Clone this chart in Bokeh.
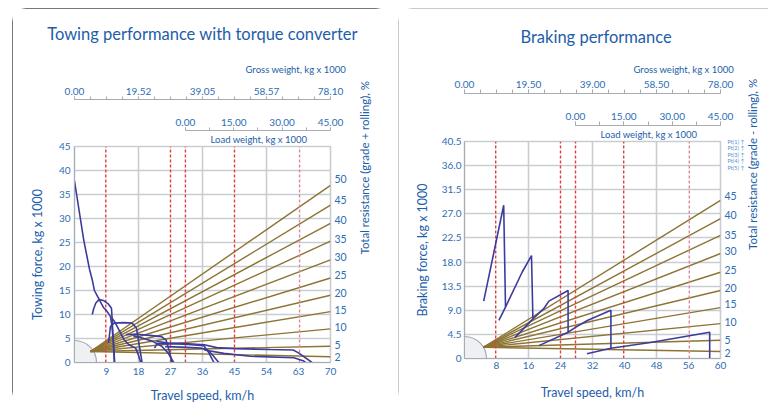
import math
from bokeh.plotting import figure
from bokeh.models import (Range1d, LinearAxis, FixedTicker, Title, CustomJSTickFormatter)
from bokeh.layouts import row
from bokeh.embed import file_html
from bokeh.resources import INLINE

# ---------------- Towing performance (left) ----------------
tow_speed_ticks = [9, 18, 27, 36, 45, 54, 63, 72]
tow_speed_labels = ["9", "18", "27", "36", "45", "54", "63", "70"]
tow_speed_grid = [18, 36, 54, 72]
tow_force_ticks = [0, 5, 10, 15, 20, 25, 30, 35, 40, 45]
tow_force_labels = ["0", "5", "10", "15", "20", "25", "30", "35", "40", "45"]
tow_gross_labels = ["0.00", "19.52", "39.05", "58.57", "78.10"]
tow_gross_max = 78.10
tow_load_labels = ["0.00", "15.00", "30.00", "45.00"]
tow_load_max = 45.0
tow_load_zero_speed = 31.2
tow_marker_speeds = [8.8, 27.0, 31.2, 45.0, 63.3]
tow_resist_pct = ["2", "5", "10", "15", "20", "25", "30", "35", "40", "45", "50"]
tow_resist_end = [1.2, 3.4, 7.0, 10.6, 14.0, 17.6, 21.4, 25.3, 29.0, 32.8, 36.9]
tow_resist_label_at = [1.2, 3.7, 7.5, 11.0, 14.5, 18.2, 22.0, 25.7, 29.7, 33.8, 38.2]
tow_fan_origin = [4.5, 2.3]

tow_g1a_speed = [0, 2.6, 4.2, 5.0, 5.6, 6.6, 8.2, 9.0, 10.1, 10.5, 10.9, 11.2]
tow_g1a_force = [37.8, 25.5, 19.5, 17.2, 15.0, 13.6, 11.4, 10.8, 9.6, 7.8, 4.5, 0]
tow_g1b_speed = [5.0, 5.4, 6.0, 6.9, 8.2, 9.5, 10.4, 10.6, 10.9, 11.3]
tow_g1b_force = [10.0, 11.2, 12.4, 13.1, 12.9, 12.2, 11.3, 8.9, 4.8, 0]
tow_g2a_speed = [10.5, 11.2, 12.5, 13.9, 15.3, 17.2, 18.0, 18.6]
tow_g2a_force = [9.3, 8.6, 6.8, 4.8, 3.7, 3.0, 1.5, 0]
tow_g2b_speed = [9.6, 10.1, 11.1, 13.9, 16.2, 17.4, 18.1, 19.0]
tow_g2b_force = [4.1, 7.5, 8.2, 8.3, 8.2, 7.2, 4.1, 0]
tow_g3a_speed = [14.5, 17.0, 20.4, 24.5, 25.8, 26.6, 27.4]
tow_g3a_force = [5.8, 5.9, 5.7, 5.4, 4.6, 2.5, 0]
tow_g3b_speed = [16.5, 19.5, 22.0, 24.5, 26.3, 27.9]
tow_g3b_force = [5.6, 5.0, 4.4, 3.4, 2.0, 0]
tow_g4a_speed = [22.5, 23.2, 26.1, 31.0, 36.4, 37.8, 39.2]
tow_g4a_force = [3.0, 3.9, 3.9, 3.8, 3.5, 2.0, 0]
tow_g4b_speed = [25.5, 30.0, 35.5, 37.5, 39.0, 40.6]
tow_g4b_force = [3.3, 3.2, 3.0, 2.6, 1.4, 0]
tow_g5a_speed = [23.0, 26.0, 32.0, 36.5, 40.0, 45.0, 55.0, 61.5, 63.0, 66.8]
tow_g5a_force = [4.4, 4.1, 3.9, 3.7, 3.1, 2.9, 2.7, 2.6, 2.0, 0]
tow_g5b_speed = [36.5, 42.0, 49.5, 61.7, 64.5, 65.0]
tow_g5b_force = [2.6, 1.9, 1.3, 1.0, 0.3, 0]

# ---------------- Braking performance (right) ----------------
brk_speed_ticks = [8, 16, 24, 32, 40, 48, 56, 64]
brk_speed_labels = ["8", "16", "24", "32", "40", "48", "56", "60"]
brk_speed_grid = [16, 32, 48, 64]
brk_force_ticks = [0, 4.5, 9, 13.5, 18, 22.5, 27, 31.5, 36, 40.5]
brk_force_labels = ["0", "4.5", "9.0", "13.5", "18.0", "22.5", "27.0", "31.5", "36.0", "40.5"]
brk_gross_labels = ["0.00", "19.50", "39.00", "58.50", "78.00"]
brk_gross_max = 78.0
brk_load_labels = ["0.00", "15.00", "30.00", "45.00"]
brk_load_max = 45.0
brk_load_zero_speed = 27.75
brk_marker_speeds = [7.8, 24.0, 27.75, 39.8, 56.2]
brk_resist_pct = ["2", "5", "10", "15", "20", "25", "30", "35", "40", "45"]
brk_resist_end = [1.3, 3.4, 6.5, 9.5, 12.7, 16.1, 19.6, 23.0, 26.1, 29.5]
brk_resist_label_at = [1.1, 3.5, 6.9, 10.1, 13.1, 16.6, 20.0, 23.1, 26.7, 30.4]
brk_fan_origin = [4.7, 2.1]
brk_pt_labels = ["Pt(1) \u2191", "Pt(2) \u2191", "Pt(3) \u2191", "Pt(4) \u2191", "Pt(5) \u2191"]

brk_b1_speed = [4.8, 9.8, 10.25]
brk_b1_force = [10.7, 28.6, 9.6]
brk_b2_speed = [8.6, 10.25, 14.4, 16.75, 17.1]
brk_b2_force = [7.1, 9.6, 16.1, 19.2, 7.4]
brk_b3_speed = [12.6, 17.1, 19.8, 21.1, 25.9, 25.9]
brk_b3_force = [3.9, 7.4, 9.3, 10.7, 12.7, 4.9]
brk_b4_speed = [18.6, 25.9, 27.75, 30.7, 36.6, 36.6]
brk_b4_force = [2.4, 4.9, 5.8, 7.1, 9.0, 1.9]
brk_b5_speed = [30.6, 36.6, 46.5, 61.3, 61.3]
brk_b5_force = [0.9, 1.9, 3.0, 4.9, 0.1]

# ---------------- style ----------------
FONT = "Lato"
BLUE_T = "#1d5ea9"
BLUE_L = "#2d6db3"
GRID = "#c9cdd2"
AXG = "#a7acb2"
FAN = "#8d7434"
CURVE = "#3c3c9c"
RED = "#e0413b"
RED_L = "#d98c98"
FW, FH = 256, 217


def fmt(ticks, labels):
    return CustomJSTickFormatter(args=dict(t=list(ticks), l=list(labels)), code="""
        let best = 0, d = Infinity;
        for (let i = 0; i < t.length; i++) {
            const e = Math.abs(t[i] - tick);
            if (e < d) { d = e; best = i; }
        }
        return l[best];
    """)


def style_axis(ax, size="10px"):
    ax.major_label_text_font = FONT
    ax.major_label_text_font_size = size
    ax.major_label_text_color = BLUE_L
    ax.axis_label_text_font = FONT
    ax.axis_label_text_font_style = "normal"
    ax.axis_label_text_color = BLUE_T


def no_ticks(ax):
    ax.major_tick_out = 0
    ax.major_tick_in = 0
    ax.minor_tick_out = 0
    ax.minor_tick_in = 0


def title(text, size, align, offset, standoff, pad_bottom=0, line_px=12):
    t = Title(text=text, align=align, offset=offset, standoff=standoff,
              vertical_align="bottom", text_font=FONT, text_font_size=size,
              text_font_style="normal", text_color=BLUE_T)
    if pad_bottom:
        try:
            t.padding = dict(left=0, right=0, top=0, bottom=pad_bottom)
        except Exception:
            t.text = text + "\n" * max(1, round(pad_bottom / line_px))
    return t


def top_axis(rname, bounds, ticks, minor, labels, tick, standoff):
    ax = LinearAxis(x_range_name=rname, bounds=bounds,
                    ticker=FixedTicker(ticks=ticks, minor_ticks=minor),
                    formatter=fmt(ticks, labels))
    style_axis(ax)
    ax.axis_line_color = AXG
    ax.major_tick_line_color = AXG
    ax.minor_tick_line_color = AXG
    ax.major_tick_out = tick
    ax.minor_tick_out = tick
    ax.major_tick_in = 0
    ax.minor_tick_in = 0
    ax.major_label_standoff = standoff
    return ax


def gap_axis(h, rname, at):
    # blank band between the two weight scales
    return LinearAxis(x_range_name=rname, ticker=FixedTicker(ticks=[at], minor_ticks=[]),
                      formatter=fmt([at], [""]), axis_line_color=None,
                      major_tick_line_color="white", minor_tick_line_color=None,
                      major_tick_out=h, major_tick_in=0, minor_tick_out=0,
                      minor_tick_in=0, major_label_standoff=0)


def panel(cfg):
    cx0, cy0 = cfg["canvas_origin"]
    W, H = cfg["size"]
    fl, ft = cfg["frame_lt"]
    xmax, ymax = cfg["xmax"], cfg["ymax"]

    p = figure(width=W, height=H, x_range=Range1d(0, xmax), y_range=Range1d(0, ymax),
               output_backend="svg", toolbar_location=None, margin=cfg["margin"],
               min_border_left=fl - cx0, min_border_top=ft - cy0,
               min_border_right=cx0 + W - (fl + FW),
               min_border_bottom=cy0 + H - (ft + FH),
               styles=cfg["styles"])
    if "frame_align" in p.properties():
        p.frame_align = False
    p.background_fill_color = "white"
    p.border_fill_color = "white"
    p.outline_line_color = GRID
    p.outline_line_width = 1.6

    p.xgrid.ticker = FixedTicker(ticks=cfg["grid_x"])
    p.ygrid.ticker = FixedTicker(ticks=cfg["force_ticks"])
    for g in (p.xgrid[0], p.ygrid[0]):
        g.grid_line_color = GRID
        g.grid_line_width = 1.6

    # bottom axis
    xa = p.xaxis[0]
    xa.ticker = FixedTicker(ticks=cfg["speed_ticks"], minor_ticks=[])
    xa.formatter = fmt(cfg["speed_ticks"], cfg["speed_labels"])
    xa.axis_label = "Travel speed, km/h"
    style_axis(xa)
    xa.axis_label_text_font_size = "12.5px"
    xa.axis_line_color = AXG
    no_ticks(xa)
    xa.major_label_standoff = cfg["xtick_standoff"]
    xa.axis_label_standoff = cfg["xlab_standoff"]

    # left axis
    ya = p.yaxis[0]
    ya.ticker = FixedTicker(ticks=cfg["force_ticks"], minor_ticks=[])
    ya.formatter = fmt(cfg["force_ticks"], cfg["force_labels"])
    ya.axis_label = cfg["ylabel"]
    style_axis(ya)
    ya.axis_label_text_font_size = "12.5px"
    ya.axis_line_color = AXG
    no_ticks(ya)
    ya.major_label_standoff = cfg["ylab_tick_standoff"]
    ya.axis_label_standoff = cfg["ylab_standoff"]

    # optional tiny labels right of the frame (nearest to the frame)
    pct_standoff = 4
    if cfg.get("pt_labels"):
        p.extra_y_ranges = {"pt": Range1d(0, FH + 0.5)}
        pt_pos = [ft + FH - wy for wy in cfg["pt_at"]]
        pa = LinearAxis(y_range_name="pt", ticker=FixedTicker(ticks=pt_pos, minor_ticks=[]),
                        formatter=fmt(pt_pos, cfg["pt_labels"]))
        style_axis(pa, "5.5px")
        pa.major_label_text_color = "#5a8fd6"
        pa.axis_line_color = None
        no_ticks(pa)
        pa.major_label_standoff = 7
        p.add_layout(pa, "right")
        pct_standoff = cfg["pct_standoff"]

    # right axis: total resistance
    ra = LinearAxis(ticker=FixedTicker(ticks=cfg["resist_label_at"], minor_ticks=[]),
                    formatter=fmt(cfg["resist_label_at"], cfg["resist_pct"]),
                    axis_label=cfg["rlabel"])
    style_axis(ra, "10.5px")
    ra.axis_label_text_font_size = "11.5px"
    ra.axis_line_color = None
    no_ticks(ra)
    ra.major_label_standoff = pct_standoff
    ra.axis_label_standoff = cfg["rlab_standoff"]
    if "axis_label_orientation" in LinearAxis.properties():
        ra.axis_label_orientation = math.pi / 2
    p.add_layout(ra, "right")

    # top: load weight title, load scale, blank band, gross scale, gross title, title
    load_start = -cfg["load_max"] * cfg["load_zero"] / (xmax - cfg["load_zero"])
    extra = dict(p.extra_x_ranges)
    extra.update({"load": Range1d(load_start, cfg["load_max"]),
                  "gross": Range1d(0, cfg["gross_max"])})
    p.extra_x_ranges = extra
    lm = [cfg["load_max"] * i / 3 for i in range(4)]
    lmin = [cfg["load_max"] * i / 6 for i in range(7)]
    gm = [cfg["gross_max"] * i / 4 for i in range(5)]
    gmin = [cfg["gross_max"] * i / 16 for i in range(17)]

    p.add_layout(title("Load weight, kg x 1000", "9.5px", "left", 136,
                       cfg["load_title_standoff"]), "above")
    p.add_layout(top_axis("load", (0, cfg["load_max"]), lm, lmin, cfg["load_labels"],
                          cfg["tick"], 2), "above")
    p.add_layout(gap_axis(cfg["gap"], "gross", cfg["gross_max"] / 32), "above")
    p.add_layout(top_axis("gross", "auto", gm, gmin, cfg["gross_labels"],
                          cfg["tick"], 2), "above")
    p.add_layout(title("Gross weight, kg x 1000", "9.5px", "left", cfg["gross_offset"],
                       0, cfg["gross_pad"], 11.4), "above")
    p.title.text = cfg["title"]
    p.title.align = cfg["title_align"]
    p.title.offset = cfg["title_offset"]
    p.title.text_font = FONT
    p.title.text_font_size = "16.5px"
    p.title.text_font_style = "normal"
    p.title.text_color = BLUE_T
    p.title.standoff = 0
    p.title.vertical_align = "bottom"
    try:
        p.title.padding = dict(left=0, right=0, top=0, bottom=cfg["title_pad"])
    except Exception:
        p.title.standoff = 2 * cfg["title_pad"]

    # quarter circle at origin
    p.wedge(x=[0], y=[0], radius=22, radius_units="screen", start_angle=0,
            end_angle=math.pi / 2, fill_color="#eef0f3", line_color=None)
    p.arc(x=[0], y=[0], radius=22, radius_units="screen", start_angle=0,
          end_angle=math.pi / 2, line_color="#a3a8ae", line_width=1.2)

    # resistance fan
    n = len(cfg["resist_end"])
    ox, oy = cfg["fan_origin"]
    p.segment(x0=[ox] * n, y0=[oy] * n, x1=[xmax] * n, y1=cfg["resist_end"],
              line_color=FAN, line_width=1.4)

    # red dashed markers
    m = cfg["markers"]
    p.segment(x0=m, y0=[0] * len(m), x1=m, y1=[ymax] * len(m),
              line_color=[RED] * (len(m) - 1) + [RED_L], line_dash="3 2", line_width=1.4)

    # performance curves
    p.multi_line(xs=cfg["curves_x"], ys=cfg["curves_y"], line_color=CURVE, line_width=1.6)
    return p


left_cfg = dict(
    canvas_origin=(12, 8), size=(378, 397), margin=(8, 4, 0, 12), frame_lt=(74, 146),
    xmax=72, ymax=45,
    styles={"outline": "1.3px solid #4a4a4a", "outline-offset": "-1.3px",
            "border-radius": "14px", "clip-path": "inset(0 0 0 0)", "isolation": "isolate"},
    grid_x=tow_speed_grid, force_ticks=tow_force_ticks, force_labels=tow_force_labels,
    speed_ticks=tow_speed_ticks, speed_labels=tow_speed_labels,
    ylabel="Towing force, kg x 1000",
    rlabel="Total resistance (grade + rolling), %",
    resist_label_at=tow_resist_label_at, resist_pct=tow_resist_pct,
    resist_end=tow_resist_end, fan_origin=tow_fan_origin,
    load_max=tow_load_max, load_zero=tow_load_zero_speed, load_labels=tow_load_labels,
    gross_max=tow_gross_max, gross_labels=tow_gross_labels,
    markers=tow_marker_speeds,
    curves_x=[tow_g1a_speed, tow_g1b_speed, tow_g2a_speed, tow_g2b_speed, tow_g3a_speed,
              tow_g3b_speed, tow_g4a_speed, tow_g4b_speed, tow_g5a_speed, tow_g5b_speed],
    curves_y=[tow_g1a_force, tow_g1b_force, tow_g2a_force, tow_g2b_force, tow_g3a_force,
              tow_g3b_force, tow_g4a_force, tow_g4b_force, tow_g5a_force, tow_g5b_force],
    title="Towing performance with torque converter", title_align="center", title_offset=0,
    gross_offset=171, load_title_standoff=3, gap=16, gross_pad=10, title_pad=18,
    tick=3, xtick_standoff=5, xlab_standoff=10, ylab_tick_standoff=4, ylab_standoff=11,
    rlab_standoff=15,
)

right_cfg = dict(
    canvas_origin=(398, 8), size=(372, 397), margin=(8, 0, 0, 4), frame_lt=(464, 141),
    xmax=64, ymax=40.5,
    styles={"outline": "1.2px solid #b9b9b9", "outline-offset": "-1.2px",
            "border-radius": "14px 0 0 14px", "clip-path": "inset(0 2px 0 0)",
            "isolation": "isolate"},
    grid_x=brk_speed_grid, force_ticks=brk_force_ticks, force_labels=brk_force_labels,
    speed_ticks=brk_speed_ticks, speed_labels=brk_speed_labels,
    ylabel="Braking force, kg x 1000",
    rlabel="Total resistance (grade - rolling), %",
    resist_label_at=brk_resist_label_at, resist_pct=brk_resist_pct,
    resist_end=brk_resist_end, fan_origin=brk_fan_origin,
    load_max=brk_load_max, load_zero=brk_load_zero_speed, load_labels=brk_load_labels,
    gross_max=brk_gross_max, gross_labels=brk_gross_labels,
    markers=brk_marker_speeds,
    curves_x=[brk_b1_speed, brk_b2_speed, brk_b3_speed, brk_b4_speed, brk_b5_speed],
    curves_y=[brk_b1_force, brk_b2_force, brk_b3_force, brk_b4_force, brk_b5_force],
    title="Braking performance", title_align="left", title_offset=56,
    pt_labels=brk_pt_labels, pt_at=[141, 147.5, 154, 160.5, 167], pct_standoff=-23,
    gross_offset=169, load_title_standoff=3, gap=16, gross_pad=3, title_pad=15,
    tick=4, xtick_standoff=3, xlab_standoff=13, ylab_tick_standoff=3, ylab_standoff=9,
    rlab_standoff=13,
)

p1 = panel(left_cfg)
p2 = panel(right_cfg)
layout = row(p1, p2, spacing=0)
open("out.html", "w").write(file_html(layout, INLINE))
